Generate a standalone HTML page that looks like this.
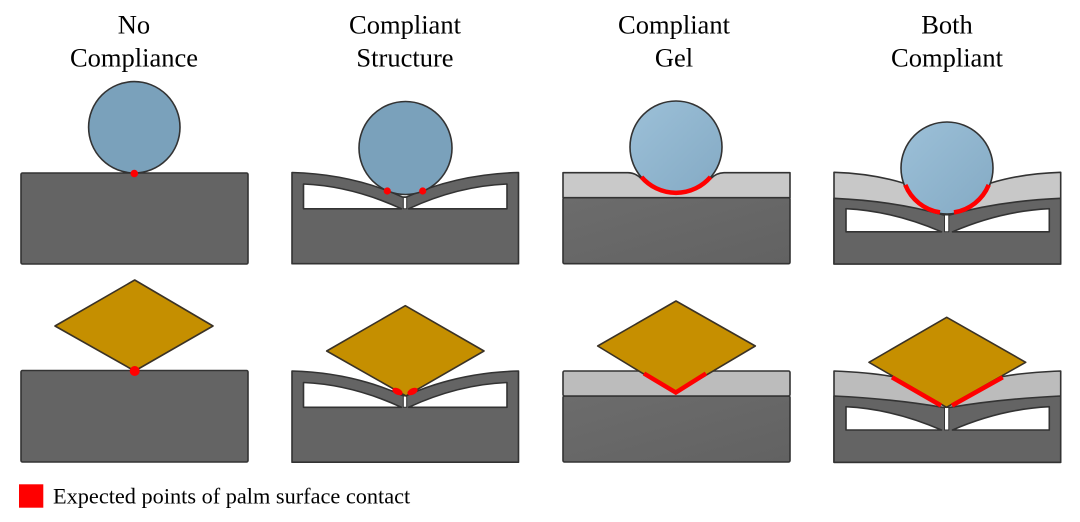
<!DOCTYPE html>
<html><head><meta charset="utf-8"><style>
html,body{margin:0;padding:0;background:#fff;}
svg{display:block;}
text{font-family:"Liberation Serif",serif;fill:#000;}
</style></head><body>
<svg width="1080" height="522" viewBox="0 0 1080 522" xmlns="http://www.w3.org/2000/svg">
<defs>
<linearGradient id="ball2" x1="0" y1="0" x2="1" y2="1">
<stop offset="0" stop-color="#9cc0d8"/><stop offset="1" stop-color="#84aac4"/>
</linearGradient>
<linearGradient id="dk" x1="0" y1="0" x2="1" y2="1">
<stop offset="0" stop-color="#6c6c6c"/><stop offset="1" stop-color="#626262"/>
</linearGradient>
</defs>

<!-- Titles -->
<g font-size="26.5" text-anchor="middle">
<text x="134" y="33.5">No</text><text x="134" y="66.5">Compliance</text>
<text x="405" y="33.5">Compliant</text><text x="405" y="66.5">Structure</text>
<text x="674" y="33.5">Compliant</text><text x="674" y="66.5">Gel</text>
<text x="947" y="33.5">Both</text><text x="947" y="66.5">Compliant</text>
</g>

<g stroke="#333" stroke-width="1.6" stroke-linejoin="round">
<!-- Col 1 top -->
<rect x="21" y="173" width="227" height="91" rx="1.5" fill="#646464"/>
<circle cx="134.3" cy="127.3" r="45.7" fill="#7aa1bb"/>
<!-- Col 1 bottom -->
<rect x="21" y="370.5" width="227" height="91.5" rx="1.5" fill="#646464"/>
<polygon points="134.7,280 213,326 134.7,371 55,326" fill="#c58f00" stroke="#3a3226"/>

<!-- Col 2 top -->
<g>
<path d="M292,172.5 Q352,174 402.5,197 L406.5,197 Q458,174 518.5,172.5 L518.5,263.7 L292,263.7 Z" fill="#646464"/>
<path d="M303.5,184 Q352,186 401.5,208.8 L303.5,208.8 Z" fill="#fff"/>
<path d="M507,184 Q458,186 408.5,208.8 L507,208.8 Z" fill="#fff"/>
<rect x="403.3" y="197.5" width="3.4" height="11.3" fill="#fff" stroke-width="1"/>
</g>
<circle cx="405.5" cy="148" r="46.5" fill="#7aa1bb"/>
<!-- Col 2 bottom -->
<g transform="translate(0,198.5)">
<path d="M292,172.5 Q352,174 402.5,197 L406.5,197 Q458,174 518.5,172.5 L518.5,263.7 L292,263.7 Z" fill="#646464"/>
<path d="M303.5,184 Q352,186 401.5,208.8 L303.5,208.8 Z" fill="#fff"/>
<path d="M507,184 Q458,186 408.5,208.8 L507,208.8 Z" fill="#fff"/>
<rect x="403.3" y="197.5" width="3.4" height="11.3" fill="#fff" stroke-width="1"/>
</g>
<polygon points="405.3,305.7 484,351 406,396 326.7,351" fill="#c58f00" stroke="#3a3226"/>

<!-- Col 3 top -->
<rect x="563" y="197.7" width="227" height="66" rx="1.5" fill="url(#dk)"/>
<path d="M563,172.7 L628,172.7 Q636,173 641,178.5 L711,178.5 Q716,173 724,172.7 L790,172.7 L790,197.7 L563,197.7 Z" fill="#c9c9c9"/>
<circle cx="676" cy="147" r="46" fill="url(#ball2)"/>
<!-- Col 3 bottom -->
<rect x="563" y="396" width="227" height="66" rx="1.5" fill="url(#dk)"/>
<rect x="563" y="371" width="227" height="25" rx="1.5" fill="#bcbcbc"/>
<polygon points="676,301 755.3,346 675.5,393.3 597.7,346" fill="#c68f00" stroke="#3a3226"/>

<!-- Col 4 top -->
<path d="M834,172.3 Q872,173.5 903,183 L991,183 Q1022,173.5 1060.7,172.3 L1060.7,264 L834,264 Z" fill="#c8c8c8"/>
<path d="M834,198.3 Q895,201 943.5,215 L949.5,215 Q999,201 1060.7,198.3 L1060.7,264 L834,264 Z" fill="#646464"/>
<path d="M846,208.7 Q893,211 941.5,231.8 L846,231.8 Z" fill="#fff"/>
<path d="M1049.3,208.7 Q1001,211 952.5,231.8 L1049.3,231.8 Z" fill="#fff"/>
<rect x="944.5" y="215" width="4.3" height="16.8" fill="#fff" stroke-width="1"/>
<circle cx="947" cy="168" r="46" fill="url(#ball2)"/>
<!-- Col 4 bottom -->
<path d="M834,371 Q870,372.5 892,376.5 L1003,376.5 Q1024,372.5 1060.7,371 L1060.7,462.3 L834,462.3 Z" fill="#bcbcbc"/>
<path d="M834,396 Q895,399 943.5,407.5 L949.5,407.5 Q999,399 1060.7,396 L1060.7,462.3 L834,462.3 Z" fill="#646464"/>
<path d="M846,406.7 Q893,409 941.5,430 L846,430 Z" fill="#fff"/>
<path d="M1049.3,406.7 Q1001,409 952.5,430 L1049.3,430 Z" fill="#fff"/>
<rect x="944.5" y="407.5" width="4.3" height="22.5" fill="#fff" stroke-width="1"/>
<polygon points="946.7,317.3 1025.7,362.3 946.5,407.3 869,362.3" fill="#c68f00" stroke="#3a3226"/>
</g>

<!-- Red contact markers -->
<g fill="#ff0000">
<circle cx="134.3" cy="173.5" r="3.8"/>
<circle cx="134.7" cy="371" r="5"/>
<circle cx="387.3" cy="191" r="3.6"/>
<circle cx="422.7" cy="191" r="3.6"/>
<ellipse cx="397.5" cy="391.5" rx="5.5" ry="3.2" transform="rotate(25 397.5 391.5)"/>
<ellipse cx="412.5" cy="391.5" rx="5.5" ry="3.2" transform="rotate(-25 412.5 391.5)"/>
<rect x="19" y="484.3" width="24.3" height="23.4"/>
</g>
<g fill="none" stroke="#ff0000" stroke-width="4.5">
<path d="M641.5,177 A45.5,45.5 0 0 0 710.5,177"/>
<polyline points="644,373.5 675.8,392.5 706,373.5"/>
<path d="M905.3,184.9 A45,45 0 0 0 940,212.4"/>
<path d="M954,212.4 A45,45 0 0 0 988.7,184.9"/>
<line x1="892" y1="377.3" x2="941" y2="405.5"/>
<line x1="952" y1="405.5" x2="1002.7" y2="377.3"/>
</g>

<!-- Legend -->
<text x="53" y="503.3" font-size="22.3">Expected points of palm surface contact</text>
</svg>
</body></html>
